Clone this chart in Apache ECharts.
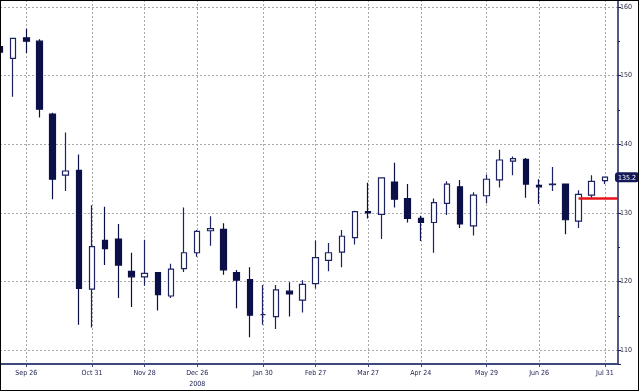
<!DOCTYPE html>
<html>
<head>
<meta charset="utf-8">
<script src="https://cdn.jsdelivr.net/npm/echarts@6/dist/echarts.min.js"></script>
<style>
html,body{margin:0;padding:0;background:#fff;}
#wrap{position:relative;width:639px;height:391px;}
#chart{position:absolute;left:0;top:0;width:639px;height:391px;}
#frame{position:absolute;left:0;top:0;width:639px;height:391px;box-sizing:border-box;border:1px solid #000;pointer-events:none;}
</style>
</head>
<body>
<div id="wrap"><div id="chart"></div><div id="frame"></div></div>
<script>
// Weekly categories (Fridays)
const categories = ['Sep 12','Sep 19','Sep 26','Oct 3','Oct 10','Oct 17','Oct 24','Oct 31','Nov 7','Nov 14','Nov 21','Nov 28','Dec 5','Dec 12','Dec 19','Dec 26','Jan 2','Jan 9','Jan 16','Jan 23','Jan 30','Feb 6','Feb 13','Feb 20','Feb 27','Mar 6','Mar 13','Mar 20','Mar 27','Apr 3','Apr 10','Apr 17','Apr 24','May 1','May 8','May 15','May 22','May 29','Jun 5','Jun 12','Jun 19','Jun 26','Jul 3','Jul 10','Jul 17','Jul 24','Jul 31','Aug 7'];
const tickLabels = ['Sep 26','Oct 31','Nov 28','Dec 26','Jan 30','Feb 27','Mar 27','Apr 24','May 29','Jun 26','Jul 31'];
const yearLabel = {at: 'Dec 26', text: '2008'};

const openVals  = [154.2,152.5,155.5,155.0,144.4,135.5,136.2,118.9,126.0,126.2,121.5,120.7,121.3,117.9,121.9,124.2,127.4,127.6,121.3,120.3,115.2,114.9,118.6,117.3,119.7,123.1,124.3,126.4,130.2,129.8,134.5,132.1,129.2,128.6,131.4,133.8,128.1,132.5,134.8,137.55,137.8,134.0,134.1,134.2,128.8,132.6,134.7];
const closeVals = [153.4,155.4,155.0,145.1,134.9,136.1,119.0,125.1,124.8,122.4,120.7,121.2,118.1,121.8,124.2,127.3,127.7,121.7,120.2,115.1,115.2,118.8,118.2,119.6,123.5,124.2,126.6,130.2,130.0,135.1,132.0,129.2,128.6,131.5,134.2,128.4,132.6,134.9,137.7,137.9,134.2,133.8,134.2,129.0,132.7,134.6,135.2];
const lowVals   = [147.6,146.9,153.3,143.9,132.0,133.2,113.7,113.3,122.4,117.6,116.3,119.4,115.8,117.6,121.4,123.6,125.2,121.0,116.1,111.9,113.7,113.1,114.9,115.5,119.0,121.5,122.1,125.4,129.2,126.2,130.8,128.6,125.9,124.2,129.7,127.8,126.7,131.4,133.7,135.5,132.2,131.3,133.2,126.9,127.8,132.1,134.2];
const highVals  = [156.9,155.4,156.8,155.3,144.6,141.7,138.5,131.1,130.9,128.4,124.2,126.1,121.3,122.6,130.8,127.5,129.5,128.5,121.7,122.1,119.5,119.5,119.9,120.2,126.0,125.6,127.5,130.3,134.4,135.1,137.3,134.2,129.6,132.1,134.6,134.8,133.0,135.6,139.2,138.2,138.0,134.9,136.7,134.2,133.3,135.5,135.3];

// Red level line
const levelValue = 132.1;
const levelFrom = 'Jul 17';
const levelTo = 'Aug 7';

const yMin = 108, yMax = 161;

const candleData = categories.map((c, i) =>
  i < openVals.length ? [openVals[i], closeVals[i], lowVals[i], highVals[i]] : '-'
);
const fromIdx = categories.indexOf(levelFrom), toIdx = categories.indexOf(levelTo);
const levelData = categories.map((c, i) => (i >= fromIdx && i <= toIdx) ? levelValue : '-');
const lastClose = closeVals[closeVals.length - 1];

const showAt = (idx, val) => tickLabels.indexOf(categories[idx]) >= 0;
const navy = '#0c1048';
const gridStyle = {color: '#a8a8a8', type: [2, 2], width: 1};
const fontFam = '"Liberation Sans Narrow","DejaVu Sans Condensed",Arial,sans-serif';

const chart = echarts.init(document.getElementById('chart'), null, {renderer: 'canvas'});
chart.setOption({
  animation: false,
  backgroundColor: '#ffffff',
  grid: {left: 0, right: 21, top: 0, bottom: 27, containLabel: false},
  xAxis: {
    type: 'category',
    data: categories,
    boundaryGap: false,
    axisLine: {show: true, lineStyle: {color: '#3d4a7e', width: 2}},
    axisTick: {show: true, interval: showAt, length: 3, lineStyle: {color: '#3d4a7e'}},
    axisLabel: {
      show: true, interval: showAt, margin: 4, fontSize: 7, color: '#1a1d50', fontFamily: fontFam,
      lineHeight: 11,
      formatter: v => v === yearLabel.at ? v + '\n' + yearLabel.text : v
    },
    splitLine: {show: true, interval: showAt, lineStyle: gridStyle}
  },
  yAxis: {
    type: 'value',
    position: 'right',
    min: yMin, max: yMax,
    splitNumber: 5,
    scale: true,
    axisLine: {show: true, lineStyle: {color: '#1c2260', width: 1.5}},
    axisTick: {show: true, inside: false, length: 3, lineStyle: {color: '#1c2260'}},
    minorTick: {show: true, splitNumber: 2, length: 2, lineStyle: {color: '#1c2260'}},
    axisLabel: {show: true, margin: 2, fontSize: 7, color: '#2a2a40', fontFamily: fontFam,
      showMinLabel: false, showMaxLabel: false},
    splitLine: {show: true, lineStyle: gridStyle},
    axisPointer: {
      show: true,
      type: 'line',
      value: lastClose,
      status: 'show',
      snap: false,
      triggerTooltip: false,
      lineStyle: {opacity: 0, width: 0},
      label: {
        show: true,
        margin: 1,
        formatter: () => lastClose.toFixed(1),
        color: '#ffffff', backgroundColor: '#141a58',
        borderRadius: 3, padding: [2, 3, 1, 3],
        fontSize: 7, fontFamily: fontFam
      }
    }
  },
  series: [
    {
      type: 'candlestick',
      data: candleData,
      barWidth: 6,
      clip: true,
      itemStyle: {
        color: '#ffffff', color0: navy,
        borderColor: '#1c2262', borderColor0: navy,
        borderWidth: 1.2
      }
    },
    {
      type: 'line',
      data: levelData,
      symbol: 'none',
      z: 5,
      lineStyle: {color: '#e8141c', width: 2.5},
      itemStyle: {color: '#e8141c'}
    }
  ]
});
</script>
</body>
</html>
